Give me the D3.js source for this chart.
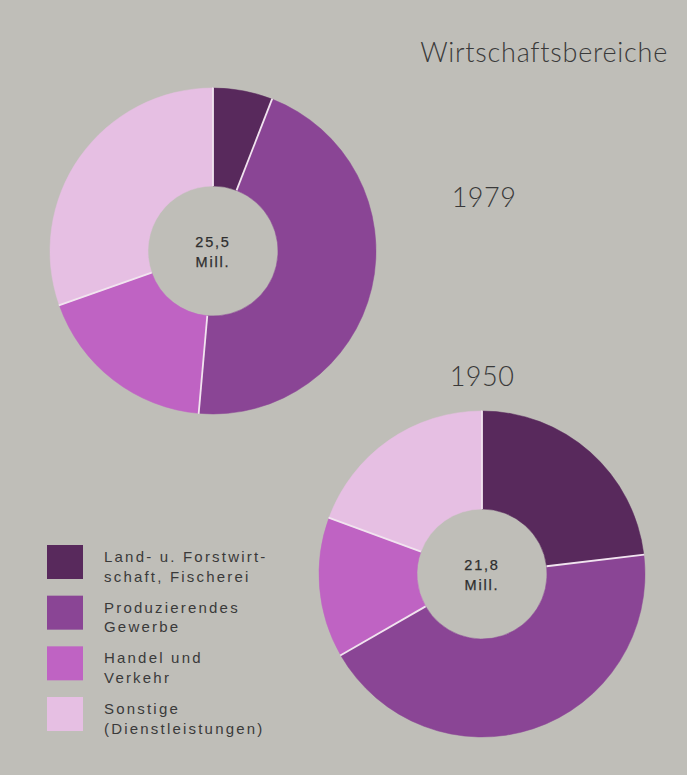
<!DOCTYPE html>
<html><head><meta charset="utf-8">
<script src="https://cdn.jsdelivr.net/npm/d3@7"></script>
<style>
html,body{margin:0;padding:0;background:#bfbeb8;}
svg{display:block;}
</style></head><body>
<svg id="chart" width="687" height="775"></svg>
<script>
const categories = [
  ["Land- u. Forstwirt-", "schaft, Fischerei"],
  ["Produzierendes", "Gewerbe"],
  ["Handel und", "Verkehr"],
  ["Sonstige", "(Dienstleistungen)"]
];
const colors = ["#58295c", "#8a4595", "#bf63c3", "#e6bfe3"];
const years = ["1979", "1950"];
const totals = ["25,5", "21,8"];
const shares1979 = [5.9, 45.5, 18.2, 30.4];
const shares1950 = [23.1, 43.6, 13.9, 19.4];
const title = "Wirtschaftsbereiche";

const svg = d3.select("#chart");
svg.append("rect").attr("width",687).attr("height",775).attr("fill","#bfbeb8");

const rIn = 65, rOut = 163;
const pie = d3.pie().sort(null).value(d => d);
const arc = d3.arc().innerRadius(rIn).outerRadius(rOut);

const donuts = [
  {shares: shares1979, cx: 213, cy: 251, total: totals[0]},
  {shares: shares1950, cx: 482, cy: 574, total: totals[1]}
];

donuts.forEach(dn => {
  const g = svg.append("g").attr("transform", `translate(${dn.cx},${dn.cy})`);
  const arcs = pie(dn.shares);
  g.selectAll("path").data(arcs).enter().append("path")
    .attr("d", arc)
    .attr("fill", (d,i) => colors[i])
    .attr("stroke", (d,i) => colors[i])
    .attr("stroke-width", 0.5);
  g.selectAll("line.sep").data(arcs).enter().append("line")
    .attr("class","sep")
    .attr("x1", d => Math.sin(d.startAngle) * rIn)
    .attr("y1", d => -Math.cos(d.startAngle) * rIn)
    .attr("x2", d => Math.sin(d.startAngle) * (rOut + 0.5))
    .attr("y2", d => -Math.cos(d.startAngle) * (rOut + 0.5))
    .attr("stroke", "#f1e4ef").attr("stroke-width", 1.8);
  g.append("text").attr("text-anchor","middle").attr("y",-4)
    .attr("font-family","Liberation Sans, Arial, sans-serif").attr("font-size",14.5)
    .attr("letter-spacing",1.8).attr("fill","#2e2e2e").attr("stroke","#2e2e2e").attr("stroke-width",0.25)
    .text(dn.total);
  g.append("text").attr("text-anchor","middle").attr("y",16)
    .attr("font-family","Liberation Sans, Arial, sans-serif").attr("font-size",14.5)
    .attr("letter-spacing",1.8).attr("fill","#2e2e2e").attr("stroke","#2e2e2e").attr("stroke-width",0.25)
    .text("Mill.");
});

svg.append("text").attr("x",668).attr("y",62).attr("text-anchor","end")
  .attr("font-family","Lato, 'Open Sans', sans-serif").attr("font-weight",300)
  .attr("font-size",27).attr("letter-spacing",0.75).attr("fill","#3a3a3a").text(title);

svg.append("text").attr("x",484).attr("y",207).attr("text-anchor","middle")
  .attr("font-family","Lato, 'Open Sans', sans-serif").attr("font-weight",300)
  .attr("font-size",27).attr("letter-spacing",0.5).attr("fill","#3a3a3a").text(years[0]);
svg.append("text").attr("x",482).attr("y",386).attr("text-anchor","middle")
  .attr("font-family","Lato, 'Open Sans', sans-serif").attr("font-weight",300)
  .attr("font-size",27).attr("letter-spacing",0.5).attr("fill","#3a3a3a").text(years[1]);

const legY = d3.scaleLinear().domain([0,3]).range([545, 697]);
const leg = svg.append("g");
categories.forEach((lines, i) => {
  const y = legY(i);
  leg.append("rect").attr("x",47).attr("y",y).attr("width",36).attr("height",34)
    .attr("fill", colors[i]);
  lines.forEach((t, j) => {
    leg.append("text").attr("x",104).attr("y", y + 17 + j*19.5)
      .attr("font-family","Liberation Sans, Arial, sans-serif").attr("font-size",15)
      .attr("letter-spacing",2.2).attr("fill","#3a3a3a").text(t);
  });
});
</script>
</body></html>
